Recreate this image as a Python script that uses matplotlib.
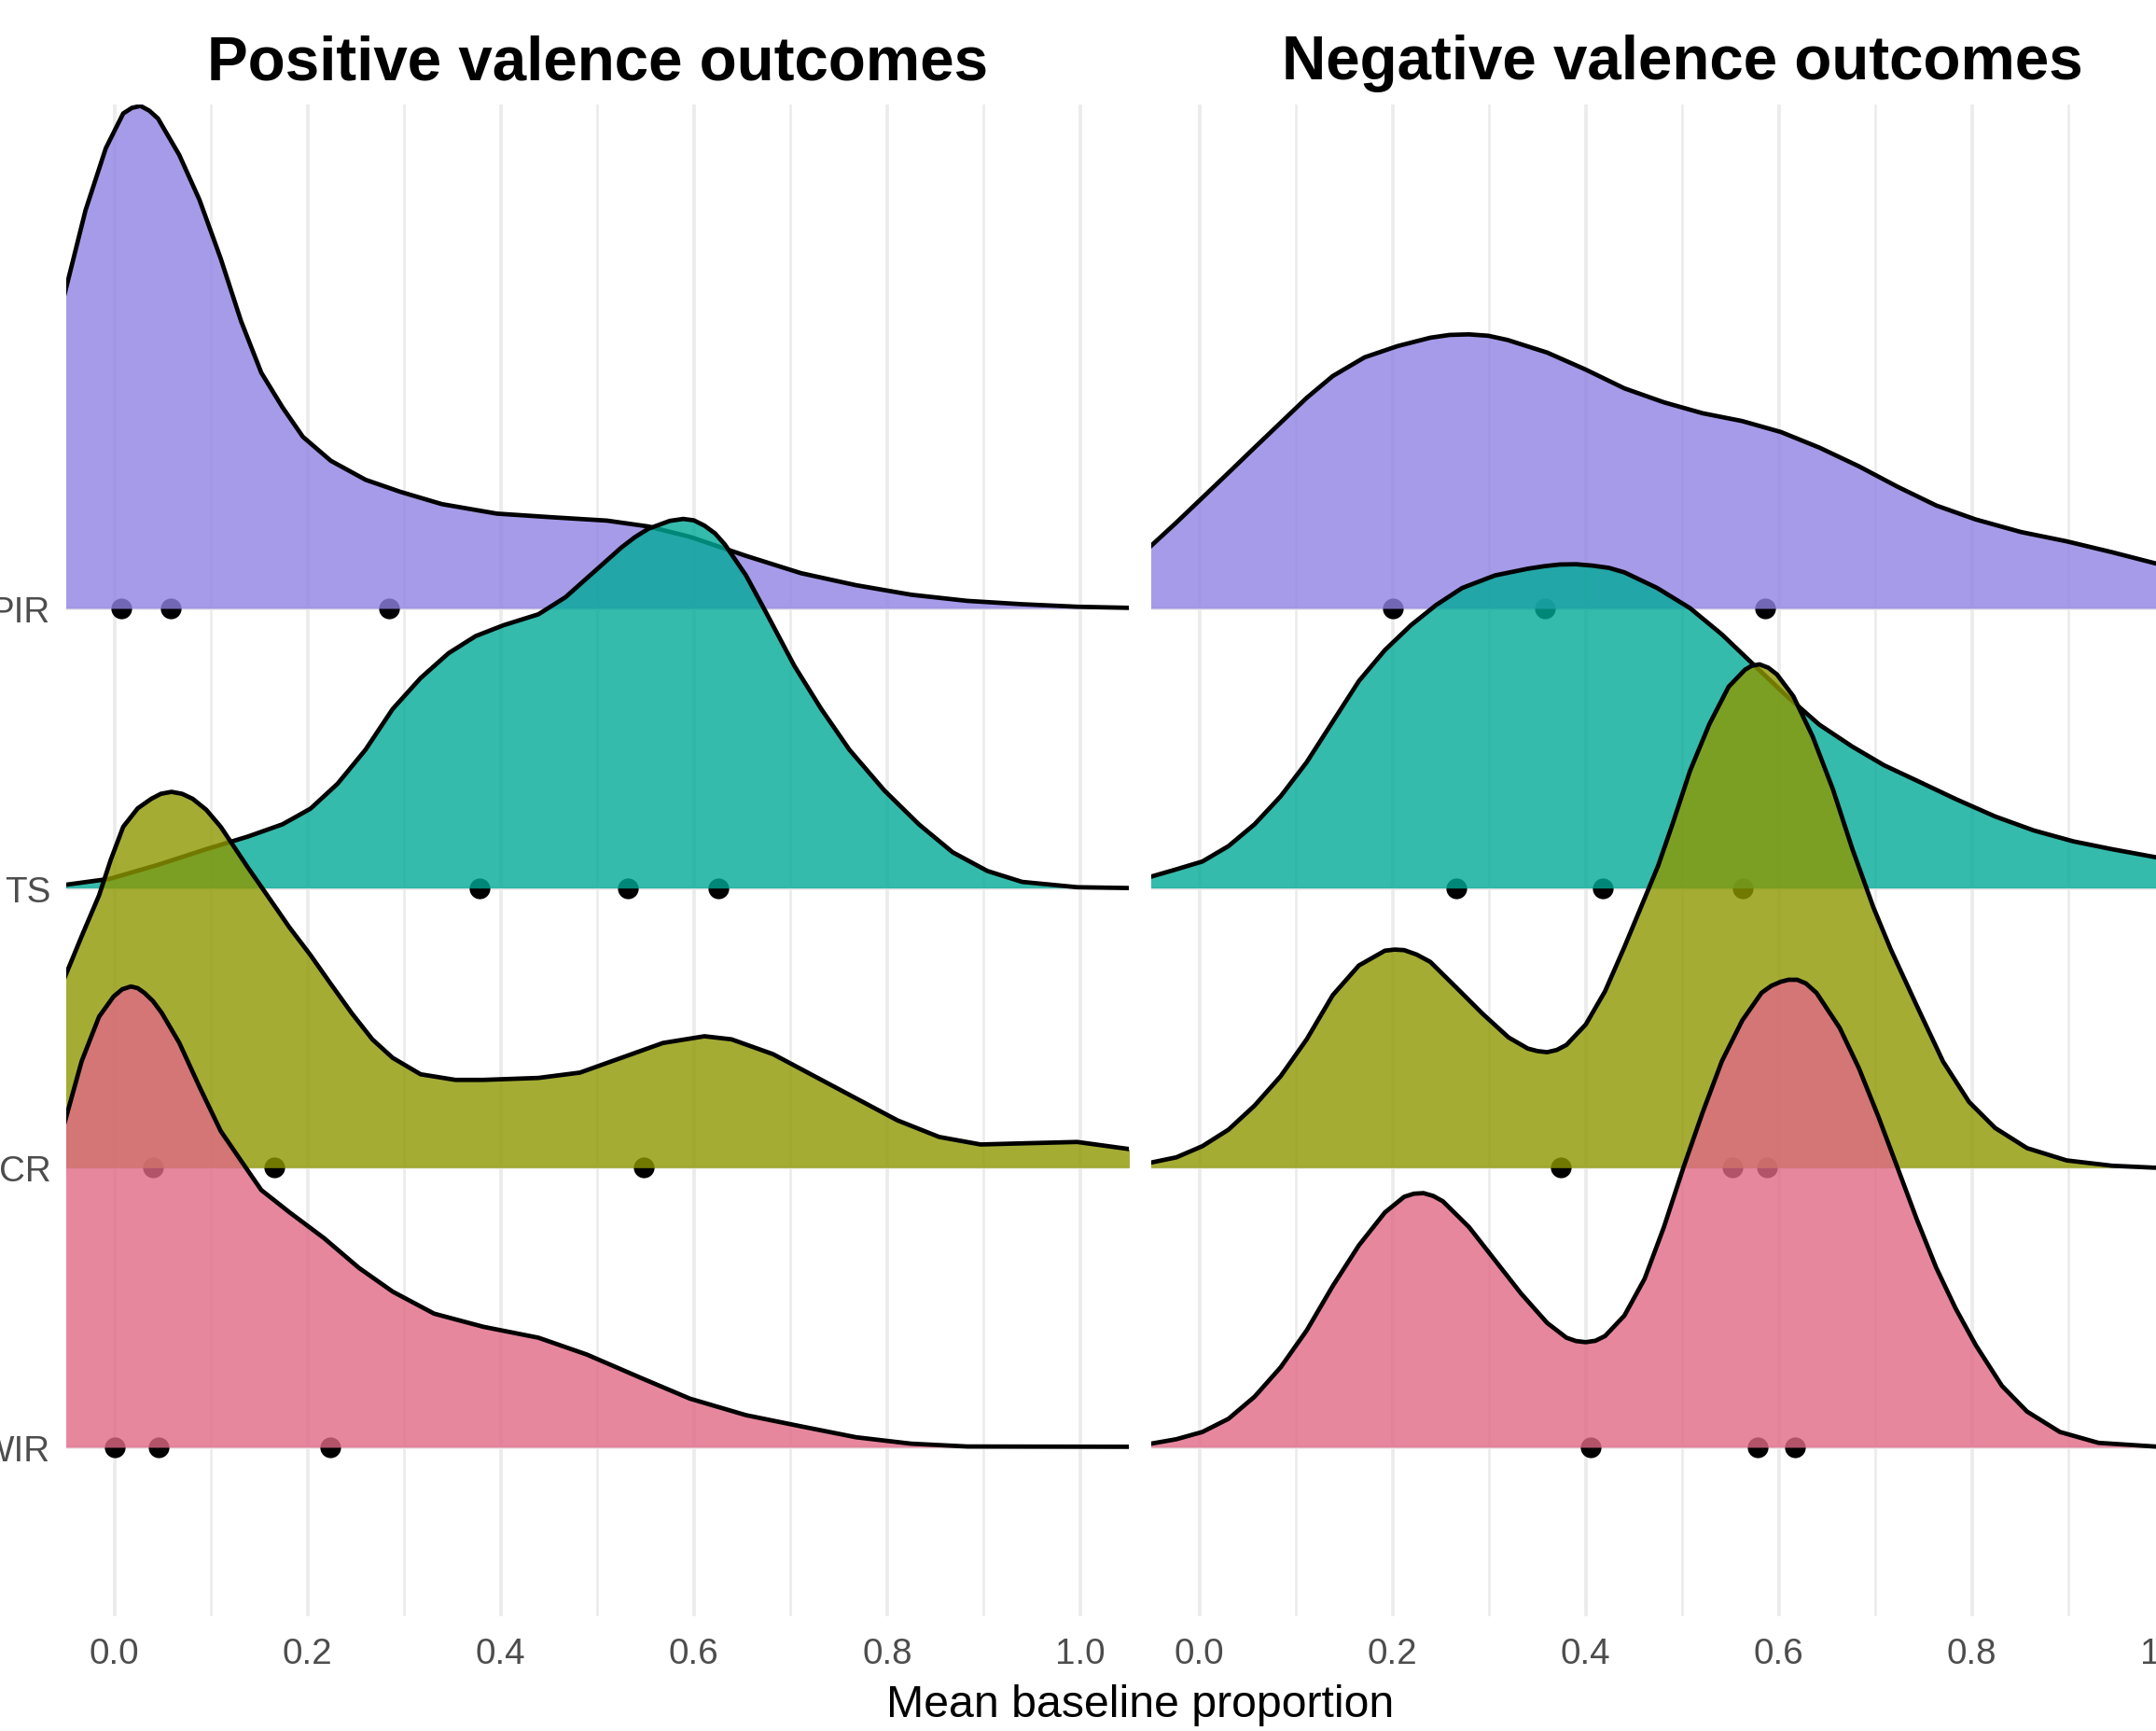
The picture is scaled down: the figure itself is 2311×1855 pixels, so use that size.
import numpy as np
import matplotlib
matplotlib.use("Agg")
import matplotlib.pyplot as plt

plt.rcParams['font.family'] = ['Liberation Sans', 'DejaVu Sans']

categories = ["WIR", "CR", "TS", "PIR"]          # bottom to top
panel_titles = ["Positive valence outcomes", "Negative valence outcomes"]
x_label = "Mean baseline proportion"
x_ticks = [0.0, 0.2, 0.4, 0.6, 0.8, 1.0]
x_tick_labels = ["0.0", "0.2", "0.4", "0.6", "0.8", "1.0"]

# ---- Positive valence: ridge heights (in row units) ----
pos_pir_x = [-0.052, -0.030, -0.009, 0.009, 0.018, 0.027, 0.036, 0.045, 0.067, 0.088, 0.110, 0.131, 0.152,
             0.174, 0.195, 0.224, 0.260, 0.296, 0.339, 0.396, 0.453, 0.510, 0.553, 0.596, 0.654, 0.711,
             0.768, 0.825, 0.883, 0.940, 0.997, 1.052]
pos_pir_y = [1.12, 1.424, 1.646, 1.770, 1.790, 1.797, 1.780, 1.752, 1.622, 1.461, 1.251, 1.028, 0.843,
             0.719, 0.614, 0.528, 0.460, 0.417, 0.373, 0.339, 0.326, 0.314, 0.293, 0.256, 0.188, 0.126,
             0.083, 0.049, 0.027, 0.015, 0.006, 0.002]

pos_ts_x = [-0.052, -0.005, 0.045, 0.095, 0.138, 0.174, 0.203, 0.231, 0.260, 0.288, 0.317, 0.346, 0.374,
            0.403, 0.439, 0.467, 0.496, 0.525, 0.539, 0.553, 0.575, 0.589, 0.600, 0.611, 0.622, 0.632,
            0.654, 0.675, 0.704, 0.732, 0.761, 0.797, 0.833, 0.868, 0.904, 0.940, 0.997, 1.052]
pos_ts_y = [0.011, 0.033, 0.083, 0.139, 0.184, 0.228, 0.284, 0.373, 0.495, 0.640, 0.751, 0.840, 0.901,
            0.940, 0.979, 1.040, 1.129, 1.218, 1.255, 1.285, 1.313, 1.320, 1.315, 1.296, 1.268, 1.229,
            1.118, 0.984, 0.795, 0.640, 0.495, 0.350, 0.228, 0.128, 0.061, 0.022, 0.003, 0.0]

pos_cr_x = [-0.052, -0.034, -0.016, -0.004, 0.009, 0.024, 0.038, 0.048, 0.059, 0.070, 0.081, 0.095, 0.110,
            0.138, 0.167, 0.181, 0.203, 0.224, 0.246, 0.267, 0.288, 0.317, 0.353, 0.382, 0.439, 0.482,
            0.525, 0.568, 0.611, 0.639, 0.682, 0.725, 0.768, 0.811, 0.854, 0.897, 0.940, 0.997, 1.052]
pos_cr_y = [0.677, 0.828, 0.974, 1.100, 1.219, 1.285, 1.319, 1.337, 1.344, 1.337, 1.319, 1.280, 1.219,
            1.074, 0.930, 0.860, 0.760, 0.657, 0.551, 0.459, 0.393, 0.334, 0.314, 0.314, 0.321, 0.340,
            0.393, 0.446, 0.470, 0.459, 0.406, 0.327, 0.248, 0.169, 0.110, 0.083, 0.087, 0.092, 0.066]

pos_wir_x = [-0.052, -0.034, -0.016, -0.001, 0.008, 0.017, 0.024, 0.031, 0.040, 0.049, 0.067, 0.088, 0.110,
             0.131, 0.152, 0.181, 0.217, 0.253, 0.288, 0.331, 0.382, 0.439, 0.489, 0.546, 0.596, 0.654,
             0.711, 0.768, 0.825, 0.883, 1.052]
pos_wir_y = [1.157, 1.381, 1.540, 1.612, 1.638, 1.648, 1.642, 1.625, 1.595, 1.553, 1.447, 1.289, 1.131,
             1.025, 0.920, 0.841, 0.748, 0.642, 0.557, 0.478, 0.431, 0.392, 0.332, 0.247, 0.174, 0.115,
             0.075, 0.036, 0.013, 0.003, 0.002]

# ---- Negative valence ----
neg_pir_x = [-0.052, -0.024, 0.003, 0.030, 0.057, 0.084, 0.111, 0.138, 0.171, 0.205, 0.239, 0.259, 0.279,
             0.299, 0.319, 0.360, 0.400, 0.440, 0.481, 0.521, 0.562, 0.602, 0.642, 0.683, 0.723, 0.763,
             0.804, 0.851, 0.898, 0.945, 0.989, 1.020, 1.052]
neg_pir_y = [0.218, 0.307, 0.396, 0.485, 0.575, 0.664, 0.753, 0.831, 0.898, 0.938, 0.968, 0.978, 0.980,
             0.975, 0.960, 0.915, 0.854, 0.787, 0.737, 0.698, 0.670, 0.631, 0.575, 0.508, 0.435, 0.368,
             0.318, 0.273, 0.240, 0.201, 0.162, 0.140, 0.120]

neg_ts_x = [-0.052, -0.024, 0.003, 0.030, 0.057, 0.084, 0.111, 0.138, 0.165, 0.192, 0.219, 0.245, 0.272,
            0.306, 0.340, 0.357, 0.373, 0.390, 0.407, 0.424, 0.440, 0.474, 0.508, 0.541, 0.575, 0.609,
            0.642, 0.676, 0.709, 0.743, 0.784, 0.824, 0.864, 0.905, 0.945, 0.989, 1.020, 1.052]
neg_ts_y = [0.039, 0.067, 0.095, 0.150, 0.228, 0.328, 0.450, 0.595, 0.740, 0.851, 0.940, 1.012, 1.073,
            1.118, 1.142, 1.151, 1.157, 1.158, 1.153, 1.145, 1.129, 1.073, 1.001, 0.907, 0.795, 0.684,
            0.584, 0.506, 0.439, 0.384, 0.317, 0.256, 0.206, 0.167, 0.139, 0.111, 0.095, 0.080]

neg_cr_x = [-0.052, -0.024, 0.003, 0.030, 0.057, 0.084, 0.111, 0.138, 0.165, 0.192, 0.202, 0.212, 0.225,
            0.239, 0.266, 0.293, 0.320, 0.340, 0.350, 0.360, 0.370, 0.380, 0.400, 0.420, 0.440, 0.457,
            0.475, 0.490, 0.508, 0.528, 0.548, 0.565, 0.572, 0.580, 0.589, 0.598, 0.615, 0.635, 0.656,
            0.676, 0.698, 0.716, 0.743, 0.770, 0.797, 0.824, 0.857, 0.898, 0.945, 0.989, 1.052]
neg_cr_y = [0.017, 0.037, 0.077, 0.136, 0.222, 0.327, 0.459, 0.617, 0.723, 0.776, 0.780, 0.778, 0.762,
            0.736, 0.644, 0.551, 0.466, 0.426, 0.417, 0.413, 0.421, 0.439, 0.512, 0.631, 0.789, 0.930,
            1.080, 1.230, 1.419, 1.586, 1.720, 1.781, 1.795, 1.800, 1.788, 1.764, 1.686, 1.542, 1.353,
            1.141, 0.930, 0.780, 0.578, 0.380, 0.235, 0.142, 0.070, 0.026, 0.007, 0.0, 0.0]

neg_wir_x = [-0.052, -0.024, 0.003, 0.030, 0.057, 0.084, 0.111, 0.138, 0.165, 0.192, 0.212, 0.222, 0.232,
             0.242, 0.252, 0.279, 0.306, 0.333, 0.360, 0.380, 0.390, 0.400, 0.410, 0.420, 0.440, 0.461,
             0.481, 0.501, 0.521, 0.541, 0.562, 0.582, 0.592, 0.602, 0.610, 0.619, 0.628, 0.639, 0.663,
             0.683, 0.703, 0.723, 0.743, 0.763, 0.783, 0.804, 0.831, 0.857, 0.891, 0.931, 0.989, 1.052]
neg_wir_y = [0.012, 0.029, 0.055, 0.102, 0.181, 0.286, 0.418, 0.577, 0.722, 0.840, 0.896, 0.907, 0.909,
             0.899, 0.880, 0.788, 0.669, 0.550, 0.445, 0.392, 0.380, 0.376, 0.381, 0.398, 0.471, 0.603,
             0.788, 0.999, 1.197, 1.381, 1.526, 1.625, 1.650, 1.665, 1.672, 1.672, 1.659, 1.625, 1.500,
             1.355, 1.183, 0.999, 0.814, 0.642, 0.497, 0.365, 0.220, 0.128, 0.055, 0.016, 0.003, 0.0]

# ---- observed points (x values) ----
pos_points = {"PIR": [0.007, 0.058, 0.284], "TS": [0.378, 0.532, 0.625],
              "CR": [0.040, 0.165, 0.548], "WIR": [0.0, 0.046, 0.223]}
neg_points = {"PIR": [0.200, 0.358, 0.586], "TS": [0.266, 0.418, 0.563],
              "CR": [0.374, 0.552, 0.588], "WIR": [0.405, 0.578, 0.617]}

pos_curves = {"PIR": (pos_pir_x, pos_pir_y), "TS": (pos_ts_x, pos_ts_y),
              "CR": (pos_cr_x, pos_cr_y), "WIR": (pos_wir_x, pos_wir_y)}
neg_curves = {"PIR": (neg_pir_x, neg_pir_y), "TS": (neg_ts_x, neg_ts_y),
              "CR": (neg_cr_x, neg_cr_y), "WIR": (neg_wir_x, neg_wir_y)}

colors = {"PIR": "#9082E3", "TS": "#01AA97", "CR": "#8E9801", "WIR": "#E06986"}
ALPHA = 0.8

W, H, DPI = 2311, 1856, 200
fig = plt.figure(figsize=(W / DPI, H / DPI), dpi=DPI)

# axes placement in pixels (figure is cropped on both sides, as in the reference)
ax_top_px, ax_bot_px = 112.7, 1733.0
ax_w_px = 1138.5
lefts_px = [71.0, 1234.0]
bottom = (H - ax_bot_px) / H
height = (ax_bot_px - ax_top_px) / H

grid_col = "#EBEBEB"
for pi, (curves, points) in enumerate([(pos_curves, pos_points), (neg_curves, neg_points)]):
    ax = fig.add_axes([lefts_px[pi] / W, bottom, ax_w_px / W, height])
    ax.set_xlim(-0.05, 1.05)
    ax.set_ylim(0.396, 5.803)
    for s in ax.spines.values():
        s.set_visible(False)
    # grid
    for xv in np.arange(0.0, 1.01, 0.1):
        major = abs(round(xv * 10) % 2) == 0
        ax.axvline(xv, color=grid_col, lw=1.3 if major else 0.9, zorder=0)
    for yi in range(1, 5):
        ax.axhline(yi, color=grid_col, lw=1.3, zorder=0)
    # ridges, drawn from top row to bottom row
    order = ["PIR", "TS", "CR", "WIR"]
    for k, cat in enumerate(order):
        base = categories.index(cat) + 1
        xs, ys = curves[cat]
        xs = np.asarray(xs); ys = np.asarray(ys)
        z = 2 + 3 * k
        px = points[cat]
        ax.plot(px, [base] * len(px), 'o', color='black', ms=8, mew=0, zorder=z)
        ax.fill_between(xs, base, base + ys, color=colors[cat], alpha=ALPHA, lw=0, zorder=z + 1)
        ax.plot(xs, base + ys, color='black', lw=1.7, zorder=z + 2,
                solid_joinstyle='round', solid_capstyle='butt')
    ax.set_xticks(x_ticks)
    ax.set_xticklabels(x_tick_labels)
    ax.tick_params(axis='both', length=0, labelsize=13.9, labelcolor="#4D4D4D", pad=8)
    if pi == 0:
        ax.set_yticks([1, 2, 3, 4])
        ax.set_yticklabels(categories)
        ax.tick_params(axis='y', pad=6)
    else:
        ax.set_yticks([])
    cx = (lefts_px[pi] + ax_w_px / 2) / W
    fig.text(cx, 1 - 68 / H, panel_titles[pi], ha='center', va='center',
             fontsize=23.6, fontweight='bold', color='black')

fig.text((71.0 + 2372.5) / 2 / W, 1 - 1828 / H, x_label, ha='center', va='center',
         fontsize=17.4, color='black')

fig.savefig("out.png", dpi=DPI)
